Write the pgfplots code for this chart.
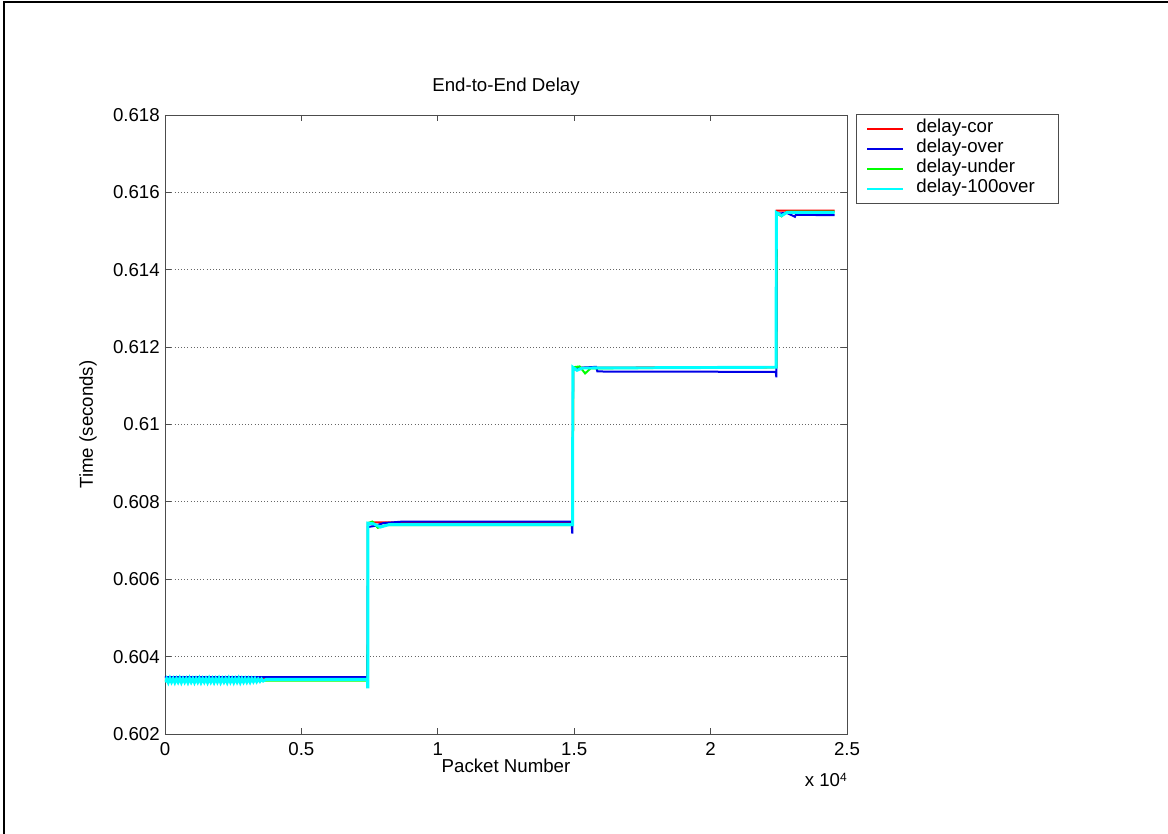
\documentclass[border=0pt]{standalone}
\usepackage{fontspec}
\setmainfont{Liberation Sans}
\usepackage{pgfplots}
\pgfplotsset{compat=1.18}

\definecolor{mred}{RGB}{255,0,0}
\definecolor{mblue}{RGB}{0,0,230}
\definecolor{mgreen}{RGB}{0,255,0}
\definecolor{mcyan}{RGB}{0,255,255}

\newcommand\lbl{\fontsize{14}{16}\selectfont}

\begin{document}
\begin{tikzpicture}[x=0.75pt,y=0.75pt]
\useasboundingbox (0,0) rectangle (1168,834);
% page border
\draw[line width=1.5pt] (3.7,0) -- (3.7,831.7) -- (1168,831.7);

\begin{axis}[
  at={(123.75pt,75pt)}, anchor=south west,
  width=511.5pt, height=464.25pt, scale only axis,
  xmin=0, xmax=25000, ymin=0.602, ymax=0.618,
  scaled x ticks=false, scaled y ticks=false,
  xtick={0,5000,10000,15000,20000,25000},
  xticklabels={0,0.5,1,1.5,2,2.5},
  ytick={0.602,0.604,0.606,0.608,0.610,0.612,0.614,0.616,0.618},
  yticklabels={0.602,0.604,0.606,0.608,0.61,0.612,0.614,0.616,0.618},
  tick align=inside, tick pos=both, major tick length=4.5pt,
  ymajorgrids, grid style={dotted, black!60, line width=0.6pt},
  axis line style={black!70, line width=0.7pt},
  tick style={black!70, line width=0.7pt},
  font=\lbl,
  ticklabel style={font=\lbl},
  xticklabel style={anchor=base, inner sep=0pt, yshift=-16.5pt},
  yticklabel style={anchor=east, inner xsep=0pt, xshift=-3.75pt},
  title={End-to-End Delay},
  title style={at={(axis description cs:0.5,1)}, anchor=base, yshift=11.25pt},
  xlabel={Packet Number},
  xlabel style={at={(axis description cs:0.5,0)}, anchor=base, inner sep=0pt,
    yshift=-29pt},
  ylabel={Time (seconds)},
  ylabel style={at={(axis description cs:-0.113,0.5)}, anchor=center},
  legend style={at={(1,1)}, anchor=north west, xshift=6.75pt, yshift=0.75pt,
    draw=black!70, line width=0.7pt, font=\lbl,
    inner xsep=0pt, inner ysep=3.375pt, row sep=0pt, column sep=0pt,
    nodes={inner sep=0pt, text height=8.5pt, text depth=3pt}},
  legend cell align=left,
  legend image code/.code={
    \path[draw=none, fill=none] (0pt,-7.5pt) rectangle (45pt,7.5pt);
    \draw[#1, line width=1.5pt] (8.25pt,0pt) -- (35.25pt,0pt);},
]

% delay-cor
\addplot[mred, line width=1.5pt] coordinates {
  (0,0.60344) (7430,0.60345) (7440,0.60745) (7600,0.60747) (14950,0.60746)
  (14960,0.61147) (22410,0.61148) (22420,0.61553) (24550,0.61553)
};
% delay-over
\addplot[mblue, line width=1.5pt] coordinates {
  (0,0.60347) (7420,0.60347) (7440,0.60735) (7700,0.60738) (8000,0.60745)
  (8700,0.60749) (14900,0.60749) (14930,0.60718) (14960,0.61142)
  (15300,0.61147) (15800,0.61149) (15850,0.61137) (22390,0.61136)
  (22410,0.61122) (22430,0.61545) (22790,0.61547) (23090,0.61537)
  (23120,0.61542) (24550,0.61541)
};
% delay-under
\addplot[mgreen, line width=1.5pt] coordinates {
  (0,0.60338) (7430,0.60338) (7440,0.60745) (7600,0.60749) (7800,0.60733)
  (8100,0.60740) (14950,0.60740) (14960,0.61148) (15200,0.61150)
  (15400,0.61132) (15600,0.61145) (22410,0.61148) (22420,0.61546)
  (22600,0.61538) (22800,0.61550) (24550,0.61550)
};
% delay-100over
\addplot[mcyan, line width=2.2pt] coordinates {
  (0,0.60334) (60,0.60343) (120,0.60333) (180,0.60344) (240,0.60334)
  (300,0.60343) (360,0.60333) (420,0.60343) (480,0.60334) (540,0.60344)
  (600,0.60333) (660,0.60343) (720,0.60334) (780,0.60343) (840,0.60333)
  (900,0.60344) (960,0.60334) (1020,0.60343) (1080,0.60333) (1140,0.60343)
  (1200,0.60334) (1260,0.60344) (1320,0.60333) (1380,0.60343) (1440,0.60334)
  (1500,0.60343) (1560,0.60333) (1620,0.60344) (1680,0.60334) (1740,0.60343)
  (1800,0.60333) (1860,0.60343) (1920,0.60334) (1980,0.60344) (2040,0.60333)
  (2100,0.60343) (2160,0.60334) (2220,0.60343) (2280,0.60333) (2340,0.60344)
  (2400,0.60334) (2460,0.60343) (2520,0.60333) (2580,0.60343) (2640,0.60334)
  (2700,0.60344) (2760,0.60333) (2820,0.60343) (2880,0.60334) (2940,0.60343)
  (3000,0.60334) (3060,0.60343) (3120,0.60334) (3180,0.60343) (3240,0.60335)
  (3300,0.60343) (3360,0.60335) (3420,0.60342) (3480,0.60336) (3540,0.60342)
  (3600,0.60337) (3700,0.60341)
  (7420,0.60341) (7425,0.60322) (7435,0.60322) (7440,0.60745) (7650,0.60743)
  (7900,0.60735) (8200,0.60741) (14940,0.60741) (14950,0.61148)
  (15100,0.61140) (15300,0.61146) (22400,0.61148) (22410,0.61548)
  (22600,0.61540) (22800,0.61548) (24550,0.61548)
};
\legend{\makebox[106.5pt][l]{delay-cor},\makebox[106.5pt][l]{delay-over},
        \makebox[106.5pt][l]{delay-under},\makebox[106.5pt][l]{delay-100over}}
\end{axis}

% axis multiplier, right-aligned with the x axis end
\node[anchor=base east, inner sep=0pt, font=\lbl] at (847,47)
  {x 10\raisebox{0.6ex}{\fontsize{9}{10}\selectfont 4}};
\end{tikzpicture}
\end{document}
